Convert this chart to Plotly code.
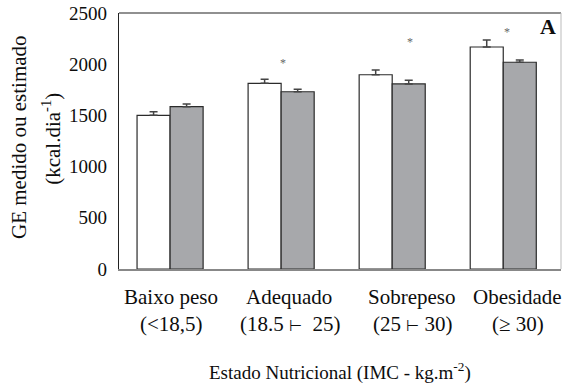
import plotly.graph_objects as go

categories = ["Baixo peso", "Adequado", "Sobrepeso", "Obesidade"]
ranges = ["(<18,5)", "(18.5 <span style='font-size:15px'>⊢</span>  25)",
          "(25 <span style='font-size:15px'>⊢</span> 30)", "(≥ 30)"]
measured = [1501, 1813, 1897, 2168]
measured_err = [35, 40, 46, 68]
estimated = [1585, 1731, 1807, 2019]
estimated_err = [26, 24, 36, 22]
star_cats = [1, 2, 3]
star_vals = [2002, 2207, 2305]

SERIF = "Liberation Serif"
INK = "#0d0d0d"
xpos = list(range(len(categories)))

fig = go.Figure()
fig.add_trace(go.Bar(
    x=xpos, y=measured, name="Medido",
    marker=dict(color="white", line=dict(color="#2b2b2b", width=1.2)),
    error_y=dict(type="data", array=measured_err, arrayminus=[0]*4, symmetric=False,
                 color="#444", thickness=1.5, width=4),
))
fig.add_trace(go.Bar(
    x=xpos, y=estimated, name="Estimado",
    marker=dict(color="#a7a8ab", line=dict(color="#2b2b2b", width=1.2)),
    error_y=dict(type="data", array=estimated_err, arrayminus=[0]*4, symmetric=False,
                 color="#444", thickness=1.5, width=4),
))
star_offsets = [0.017, 0.16, 0.034]
fig.add_trace(go.Scatter(
    x=[c + o for c, o in zip(star_cats, star_offsets)], y=star_vals,
    mode="text", text=["*"] * len(star_vals),
    textfont=dict(family=SERIF, size=12, color="#666"),
    showlegend=False, hoverinfo="skip",
))

# label centres in paper fraction (style/layout, not data)
lab1_x = [0.118, 0.385, 0.664, 0.902]
lab2_x = [0.118, 0.387, 0.666, 0.902]
annotations = []
for i, (c, r) in enumerate(zip(categories, ranges)):
    annotations.append(dict(x=lab1_x[i], y=-0.109, xref="paper", yref="paper", text=c,
                            showarrow=False, xanchor="center", yanchor="middle",
                            font=dict(family=SERIF, size=21, color=INK)))
    annotations.append(dict(x=lab2_x[i], y=-0.215, xref="paper", yref="paper", text=r,
                            showarrow=False, xanchor="center", yanchor="middle",
                            font=dict(family=SERIF, size=21, color=INK)))
annotations += [
    dict(x=0.5, y=-0.40, xref="paper", yref="paper", showarrow=False,
         text="Estado Nutricional (IMC - kg.m<sup>-2</sup>)", xanchor="center", yanchor="middle",
         font=dict(family=SERIF, size=19, color=INK)),
    dict(x=-0.225, y=0.514, xref="paper", yref="paper", showarrow=False, textangle=-90,
         text="GE medido ou estimado", xanchor="center", yanchor="middle",
         font=dict(family=SERIF, size=21, color=INK)),
    dict(x=-0.153, y=0.51, xref="paper", yref="paper", showarrow=False, textangle=-90,
         text="(kcal.dia<sup>-1</sup>)", xanchor="center", yanchor="middle",
         font=dict(family=SERIF, size=21, color=INK)),
    dict(x=0.971, y=0.949, xref="paper", yref="paper", showarrow=False,
         text="<b>A</b>", xanchor="center", yanchor="middle",
         font=dict(family=SERIF, size=22, color=INK)),
]

fig.update_layout(
    width=564, height=390,
    margin=dict(l=119, r=3, t=13, b=121),
    paper_bgcolor="white", plot_bgcolor="white",
    font=dict(family=SERIF, color=INK),
    barmode="group", bargap=0.405, bargroupgap=0,
    showlegend=False,
    annotations=annotations,
    shapes=[
        dict(type="line", xref="paper", yref="paper", x0=0, x1=1, y0=1, y1=1,
             line=dict(color="#222", width=1.2)),
        dict(type="line", xref="paper", yref="paper", x0=1, x1=1, y0=0, y1=1,
             line=dict(color="#bbb", width=1)),
    ],
    xaxis=dict(range=[-0.46, 3.52], showticklabels=False, ticks="", showgrid=False,
               zeroline=False, showline=True, linecolor="#888", linewidth=1.5),
    yaxis=dict(range=[0, 2500], tickvals=[0, 500, 1000, 1500, 2000, 2500], ticks="",
               showgrid=False, zeroline=False, showline=True, linecolor="#222", linewidth=1.2,
               ticklabelstandoff=7,
               tickfont=dict(family=SERIF, size=19, color=INK)),
)

fig.write_html("out.html", config={"displayModeBar": False},
               post_script="document.body.style.margin='0';")
